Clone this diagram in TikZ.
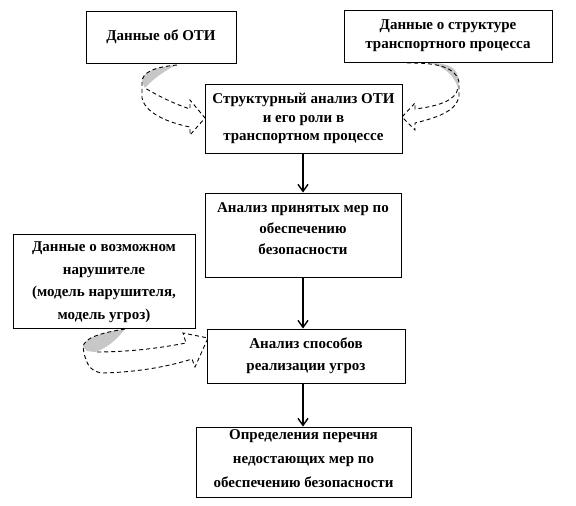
\documentclass[tikz,border=0pt]{standalone}
\usepackage{fontspec}
\setmainfont{Liberation Serif}
\usetikzlibrary{arrows.meta}
\begin{document}
\begin{tikzpicture}[x=1pt,y=-1pt,
  box/.style={draw, line width=0.9pt, inner sep=0pt},
  txt/.style={align=center, inner sep=0pt, font=\bfseries\fontsize{15}{19}\selectfont},
  arr/.style={line width=1.4pt, -{Straight Barb[length=7pt,width=10pt]}},
  band/.style={dashed, dash pattern=on 4pt off 3pt, line width=0.9pt},
  shade/.style={fill=black!22}]
\useasboundingbox (0,0) rectangle (576,506);
% boxes
\node[box, minimum width=150pt, minimum height=52pt] (A) at (161,37) {};
\node[box, minimum width=208pt, minimum height=52pt] (B) at (448,36) {};
\node[box, minimum width=197pt, minimum height=69pt] (C) at (303.5,118.5) {};
\node[box, minimum width=196pt, minimum height=84pt] (D) at (303,235) {};
\node[box, minimum width=182pt, minimum height=94pt] (E) at (104,281) {};
\node[box, minimum width=198pt, minimum height=54pt] (F) at (306,356) {};
\node[box, minimum width=215pt, minimum height=70pt] (G) at (303.5,462) {};
% texts
\node[txt] (At) at (161,37) {Данные об ОТИ};
\node[txt] (Bt) at (448,36) {Данные о структуре\\транспортного процесса};
\node[txt, font=\bfseries\fontsize{15}{18.5}\selectfont] (Ct) at (303.5,118.5) {Структурный анализ ОТИ\\и его роли в\\транспортном процессе};
\node[txt, font=\bfseries\fontsize{15}{21}\selectfont] (Dt) at (303,229) {Анализ принятых мер по\\обеспечению\\безопасности};
\node[txt, font=\bfseries\fontsize{15}{22.5}\selectfont] (Et) at (104,282) {Данные о возможном\\нарушителе\\(модель нарушителя,\\модель угроз)};
\node[txt, font=\bfseries\fontsize{15}{22}\selectfont] (Ft) at (306,356) {Анализ способов\\реализации угроз};
\node[txt, font=\bfseries\fontsize{15}{24}\selectfont] (Gt) at (303.5,459) {Определения перечня\\недостающих мер по\\обеспечению безопасности};
% straight arrows
\draw[arr] (C.south -| 303,0) -- (D.north -| 303,0);
\draw[arr] (D.south -| 303,0) -- (F.north -| 303,0);
\draw[arr] (F.south -| 303,0) -- (G.north -| 303,0);
% curved arrow A -> C
\fill[shade] (177,65) .. controls (155,67) and (142,72) .. (142,82) -- (145,88) .. controls (152,80) and (165,70) .. (177,65);
\draw[band] (177,65) .. controls (155,67) and (142,72) .. (142,82) -- (142,98) .. controls (145,112) and (165,122) .. (190,127)
  -- (190,135) -- (205,118) -- (190,100) -- (190,109) .. controls (175,104) and (160,97) .. (145,88);
% curved arrow B -> C
\fill[shade] (430,63) .. controls (450,63) and (458,68) .. (459,82) -- (458,88) .. controls (455,78) and (448,68) .. (430,63) -- cycle;
\draw[band] (407,63) .. controls (425,63) and (455,63) .. (459,82) -- (459,96) .. controls (457,110) and (440,117) .. (415,123)
  -- (415,130) -- (402,117) -- (415,103) -- (415,109) .. controls (440,106) and (456,100) .. (458,88);
% curved arrow E -> F
\fill[shade] (125,329) .. controls (100,333) and (84,338) .. (83,347) -- (87,351) -- (95,352) .. controls (108,348) and (118,338) .. (125,329);
\draw[band] (125,329) .. controls (100,333) and (84,338) .. (83,347) .. controls (85,360) and (88,372) .. (103,373)
  .. controls (140,372) and (170,366) .. (192,359) -- (195,367) -- (208,338) -- (183,333) -- (186,343)
  .. controls (160,348) and (130,352) .. (95,352);
\end{tikzpicture}
\end{document}
